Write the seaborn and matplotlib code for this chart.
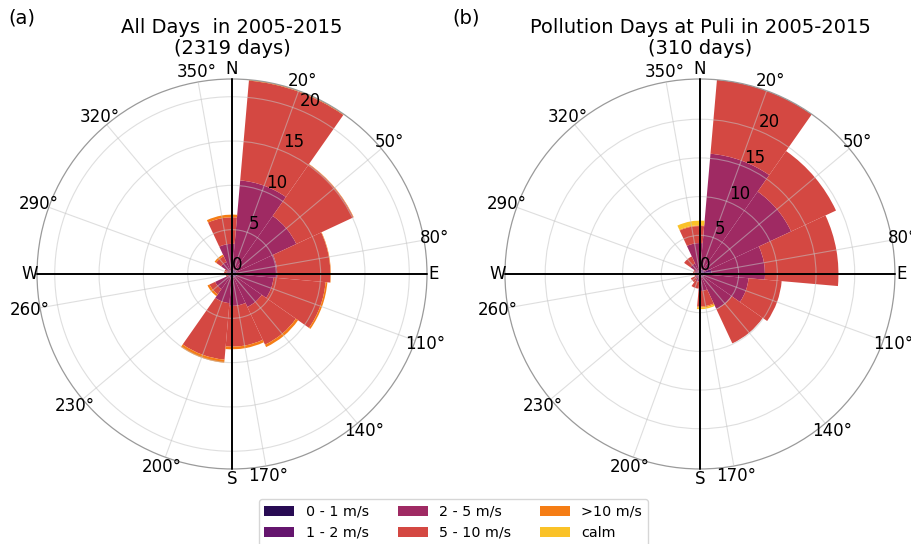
import numpy as np
import matplotlib
matplotlib.use("Agg")
import matplotlib.pyplot as plt
import seaborn as sns

# ---------------- data (percent of days) ----------------
directions = [20, 50, 80, 110, 140, 170, 200, 230, 260, 290, 320, 350]
speed_labels = ["0 - 1 m/s", "1 - 2 m/s", "2 - 5 m/s", "5 - 10 m/s", ">10 m/s", "calm"]

# (a) All days
all_s01 = [0.1, 0.1, 0.1, 0.1, 0.1, 0.1, 0.1, 0.1, 0.05, 0.05, 0.05, 0.1]
all_s12 = [0.4, 0.4, 0.4, 0.4, 0.3, 0.3, 0.3, 0.3, 0.15, 0.2, 0.25, 0.3]
all_s25 = [10.1, 7.5, 4.6, 4.2, 3.7, 3.2, 2.9, 1.7, 0.3, 0.35, 1.2, 3.0]
all_s510 = [11.3, 7.1, 6.0, 5.9, 4.7, 4.6, 6.4, 0.7, 0.2, 0.3, 0.7, 3.0]
all_s10p = [0.1, 0.05, 0.05, 0.2, 0.3, 0.3, 0.35, 0.25, 0.0, 0.0, 0.2, 0.3]
all_calm = [0.0] * 12

# (b) Pollution days at Puli
pol_s01 = [0.1, 0.1, 0.5, 0.1, 0.1, 0.05, 0.05, 0.05, 0.05, 0.05, 0.05, 0.1]
pol_s12 = [0.5, 0.5, 1.0, 0.4, 0.3, 0.3, 0.2, 0.2, 0.1, 0.2, 0.3, 0.4]
pol_s25 = [15.0, 12.4, 6.9, 5.8, 4.6, 1.85, 0.75, 0.45, 0.25, 0.45, 1.15, 3.5]
pol_s510 = [9.6, 6.4, 9.5, 4.3, 4.9, 2.0, 0.9, 0.6, 0.3, 0.2, 1.0, 2.2]
pol_s10p = [0.0, 0.0, 0.0, 0.0, 0.0, 0.15, 0.0, 0.0, 0.0, 0.0, 0.0, 0.1]
pol_calm = [0.0, 0.0, 0.0, 0.0, 0.0, 0.2, 0.0, 0.0, 0.0, 0.0, 0.0, 0.6]

titles = ["All Days  in 2005-2015\n(2319 days)",
          "Pollution Days at Puli in 2005-2015\n(310 days)"]
panel_tags = ["(a)", "(b)"]
r_ticks = [0, 5, 10, 15, 20]

# ---------------- style ----------------
sns.set_style("white")
plt.rcParams["font.family"] = ["DejaVu Sans"]
for key in ["text.color", "xtick.color", "ytick.color", "axes.labelcolor"]:
    plt.rcParams[key] = "black"
palette = sns.color_palette("inferno", 6)

fig = plt.figure(figsize=(9.12, 5.44), dpi=100)
ax_pos = [[0.0406, 0.1379, 0.4276, 0.7169], [0.5537, 0.1379, 0.4276, 0.7169]]

datasets = [
    [all_s01, all_s12, all_s25, all_s510, all_s10p, all_calm],
    [pol_s01, pol_s12, pol_s25, pol_s510, pol_s10p, pol_calm],
]

theta = np.radians(directions)
width = np.radians(30)
handles = None

for k, (series, pos) in enumerate(zip(datasets, ax_pos)):
    ax = fig.add_axes(pos, projection="polar")
    ax.set_theta_zero_location("N")
    ax.set_theta_direction(-1)
    bottom = np.zeros(len(directions))
    bars = []
    for vals, col, lab in zip(series, palette, speed_labels):
        vals = np.asarray(vals, dtype=float)
        b = ax.bar(theta, vals, width=width, bottom=bottom, color=col,
                   linewidth=0, label=lab, align="center", zorder=1)
        bars.append(b)
        bottom = bottom + vals
    if handles is None:
        handles = bars
    rmax = bottom.max()
    ax.set_ylim(0, rmax)
    ax.set_xticks(theta)
    ax.set_yticks(r_ticks)
    ax.set_rlabel_position(22.5)
    ax.tick_params(axis="x", labelsize=12, pad=-3)
    ax.tick_params(axis="y", labelsize=12)
    ax.grid(True, color="#c4c4c4", linewidth=0.8, alpha=0.55)
    ax.set_axisbelow(False)
    ax.spines["polar"].set_color("#9a9a9a")
    ax.spines["polar"].set_linewidth(0.9)

    # compass cross lines
    for t in [0, np.pi / 2, np.pi, 3 * np.pi / 2]:
        ax.plot([t, t], [0, rmax], color="black", lw=1.4, zorder=4, clip_on=False)
    ax.annotate("N", xy=(0, rmax), xytext=(0, 1), textcoords="offset points",
                ha="center", va="bottom", fontsize=12, annotation_clip=False)
    ax.annotate("S", xy=(np.pi, rmax), xytext=(0, -1), textcoords="offset points",
                ha="center", va="top", fontsize=12, annotation_clip=False)
    ax.annotate("E", xy=(np.pi / 2, rmax), xytext=(1, 0), textcoords="offset points",
                ha="left", va="center", fontsize=12, annotation_clip=False)
    ax.annotate("W", xy=(3 * np.pi / 2, rmax), xytext=(1, 0), textcoords="offset points",
                ha="right", va="center", fontsize=12, annotation_clip=False)

    ax.text(0.5, 1.055, titles[k], transform=ax.transAxes, ha="center", va="bottom",
            fontsize=14, multialignment="center", linespacing=1.1)

fig.text(0.009, 0.985, panel_tags[0], ha="left", va="top", fontsize=14)
fig.text(0.496, 0.985, panel_tags[1], ha="left", va="top", fontsize=14)

fig.legend(handles=handles, labels=speed_labels, loc="upper center", ncol=3,
           bbox_to_anchor=(0.497, 0.096), fontsize=10.3, handlelength=2.1,
           frameon=True)

fig.savefig("out.png", dpi=100)
